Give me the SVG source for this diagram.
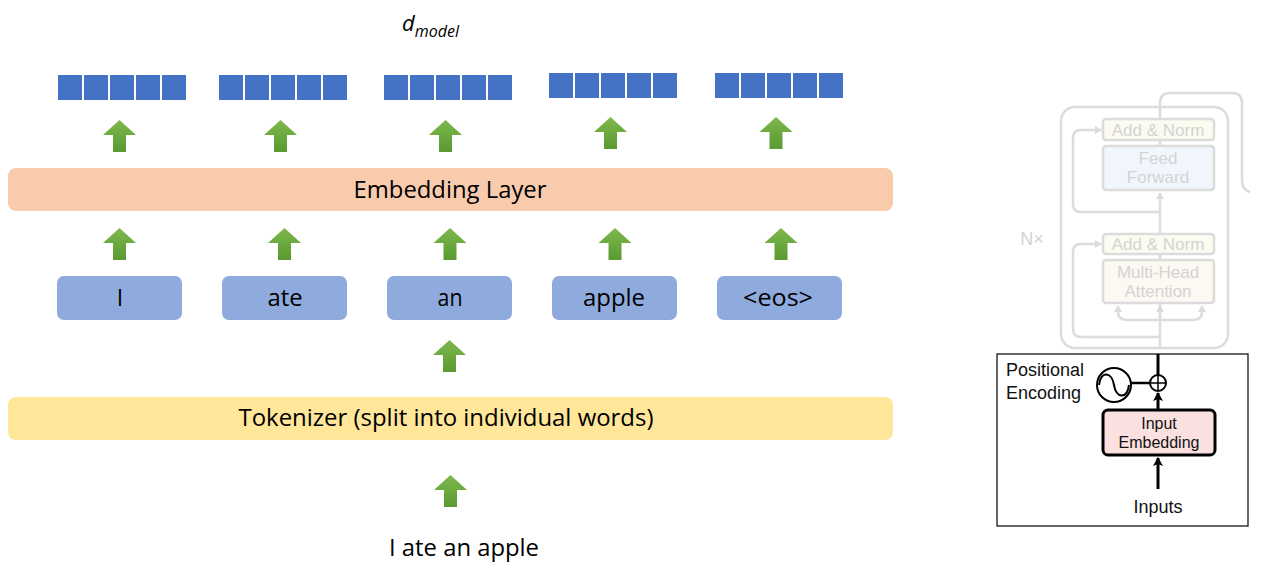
<svg xmlns="http://www.w3.org/2000/svg" width="1267" height="569" viewBox="0 0 1267 569">
<style>
.cell{fill:#4472C4}
.tok{fill:#8FAADC}
.lbl{font-family:"Open Sans","Liberation Sans",sans-serif;font-size:23px;fill:#000;text-anchor:middle}
.g{fill:none;stroke:#dcdcdc;stroke-width:2.5}
.gt{font-family:"Liberation Sans",Arial,sans-serif;font-size:17px;fill:#d4d4d4;text-anchor:middle}
.bt{font-family:"Liberation Sans",Arial,sans-serif;fill:#111}
.k{fill:none;stroke:#000;stroke-width:3}
</style>
<defs>
<linearGradient id="gr" x1="0" y1="0" x2="0" y2="1">
<stop offset="0" stop-color="#7DB84E"/>
<stop offset="1" stop-color="#5A9A2F"/>
</linearGradient>
<path id="arr" d="M0,0 L16.5,15 L6.5,15 L6.5,32 L-6.5,32 L-6.5,15 L-16.5,15 Z" fill="url(#gr)"/>
<g id="vec">
<rect class="cell" x="0" y="0" width="24" height="25"/>
<rect class="cell" x="26" y="0" width="24" height="25"/>
<rect class="cell" x="52" y="0" width="24" height="25"/>
<rect class="cell" x="78" y="0" width="24" height="25"/>
<rect class="cell" x="104" y="0" width="24" height="25"/>
</g>
<marker id="ga" markerWidth="8" markerHeight="8" refX="6" refY="4" orient="auto" markerUnits="userSpaceOnUse"><path d="M0,0 L7,4 L0,8 Z" fill="#dcdcdc"/></marker>
<marker id="ka" markerWidth="10" markerHeight="10" refX="8" refY="5" orient="auto" markerUnits="userSpaceOnUse"><path d="M0,0 L9,5 L0,10 L2,5 Z" fill="#000"/></marker>
</defs>
<rect width="1267" height="569" fill="#fff"/>

<g id="dmodel">
<text x="402" y="31" font-family="'Open Sans','Liberation Sans',sans-serif" font-style="italic" font-size="22">d<tspan font-size="16" dy="6">model</tspan></text>
</g>

<g id="vectors">
<use href="#vec" x="58" y="75"/>
<use href="#vec" x="219" y="75"/>
<use href="#vec" x="384" y="75"/>
<use href="#vec" x="549" y="73"/>
<use href="#vec" x="715" y="73"/>
</g>

<g id="connectors">
<use href="#arr" x="119.5" y="120"/>
<use href="#arr" x="280.5" y="120"/>
<use href="#arr" x="445.5" y="120"/>
<use href="#arr" x="610.5" y="117"/>
<use href="#arr" x="776" y="117"/>
<use href="#arr" x="119.5" y="228"/>
<use href="#arr" x="284.5" y="228"/>
<use href="#arr" x="450" y="228"/>
<use href="#arr" x="615" y="228"/>
<use href="#arr" x="781" y="228"/>
<use href="#arr" x="449.5" y="340"/>
<use href="#arr" x="450.5" y="475"/>
</g>

<g id="embedding-layer">
<rect x="8" y="168" width="885" height="43" rx="8" fill="#F8CBAD"/>
<text class="lbl" x="450" y="198" textLength="193" lengthAdjust="spacingAndGlyphs">Embedding Layer</text>
</g>

<g id="tok-I"><rect class="tok" x="57" y="276" width="125" height="44" rx="7"/><text class="lbl" x="120" y="306">I</text></g>
<g id="tok-ate"><rect class="tok" x="222" y="276" width="125" height="44" rx="7"/><text class="lbl" x="285" y="306" textLength="35" lengthAdjust="spacingAndGlyphs">ate</text></g>
<g id="tok-an"><rect class="tok" x="387" y="276" width="125" height="44" rx="7"/><text class="lbl" x="450" y="306" textLength="25" lengthAdjust="spacingAndGlyphs">an</text></g>
<g id="tok-apple"><rect class="tok" x="552" y="276" width="125" height="44" rx="7"/><text class="lbl" x="614" y="306" textLength="62" lengthAdjust="spacingAndGlyphs">apple</text></g>
<g id="tok-eos"><rect class="tok" x="717" y="276" width="125" height="44" rx="7"/><text class="lbl" x="778" y="306" textLength="70" lengthAdjust="spacingAndGlyphs">&lt;eos&gt;</text></g>

<g id="tokenizer">
<rect x="8" y="397" width="885" height="43" rx="8" fill="#FFE699"/>
<text class="lbl" x="446" y="426" textLength="415" lengthAdjust="spacingAndGlyphs">Tokenizer (split into individual words)</text>
</g>

<g id="input-text">
<text class="lbl" x="464" y="556" textLength="150" lengthAdjust="spacingAndGlyphs">I ate an apple</text>
</g>

<g id="transformer-faded">
<path class="g" d="M1160,119 L1160,103 Q1160,93 1170,93 L1232,93 Q1242,93 1242,103 L1242,180 Q1242,190 1250,192"/>
<rect class="g" x="1061" y="107" width="167" height="241" rx="14"/>
<rect x="1103" y="119" width="111" height="21" rx="3" fill="#fbfbf0" stroke="#dcdcdc" stroke-width="2.5"/>
<text class="gt" x="1158" y="136">Add &amp; Norm</text>
<rect x="1103" y="146" width="111" height="44" rx="3" fill="#f0f6fc" stroke="#dcdcdc" stroke-width="2.5"/>
<text class="gt" x="1158" y="164">Feed</text>
<text class="gt" x="1158" y="183">Forward</text>
<line class="g" x1="1160" y1="140" x2="1160" y2="146"/>
<path class="g" d="M1160,348 L1160,193" marker-end="url(#ga)"/>
<path class="g" d="M1160,212 L1081,212 Q1073,212 1073,204 L1073,138 Q1073,130 1081,130 L1101,130" marker-end="url(#ga)"/>
<rect x="1103" y="234" width="111" height="20" rx="3" fill="#fbfbf0" stroke="#dcdcdc" stroke-width="2.5"/>
<text class="gt" x="1158" y="250">Add &amp; Norm</text>
<rect x="1103" y="260" width="111" height="43" rx="3" fill="#fcf8f2" stroke="#dcdcdc" stroke-width="2.5"/>
<text class="gt" x="1158" y="278">Multi-Head</text>
<text class="gt" x="1158" y="297">Attention</text>
<line class="g" x1="1160" y1="254" x2="1160" y2="260"/>
<path class="g" d="M1160,337 L1081,337 Q1073,337 1073,329 L1073,252 Q1073,244 1081,244 L1101,244" marker-end="url(#ga)"/>
<path class="g" d="M1160,320 L1128,320 Q1118,320 1118,312 L1118,306" marker-end="url(#ga)"/>
<path class="g" d="M1160,320 L1193,320 Q1202,320 1202,312 L1202,306" marker-end="url(#ga)"/>
<path class="g" d="M1160,320 L1160,306" marker-end="url(#ga)"/>
<text x="1032" y="245" font-family="'Liberation Sans',Arial,sans-serif" font-size="18" fill="#d4d4d4" text-anchor="middle">N×</text>
</g>

<g id="encoder-input">
<rect x="997" y="354" width="251" height="172" fill="none" stroke="#000" stroke-width="1.2"/>
<text class="bt" x="1006" y="376" font-size="18">Positional</text>
<text class="bt" x="1006" y="399" font-size="18">Encoding</text>
<circle cx="1114" cy="385" r="17" fill="none" stroke="#000" stroke-width="2"/>
<path d="M1099,385 C1101,370 1112,372 1114,385 C1116,398 1127,400 1129,385" fill="none" stroke="#000" stroke-width="2"/>
<line x1="1131" y1="383" x2="1150" y2="383" stroke="#000" stroke-width="2.5"/>
<circle cx="1158" cy="383" r="8" fill="#fff" stroke="#000" stroke-width="2"/>
<line x1="1150" y1="383" x2="1166" y2="383" stroke="#000" stroke-width="1.5"/>
<line x1="1158" y1="375" x2="1158" y2="391" stroke="#000" stroke-width="1.5"/>
<line class="k" x1="1158" y1="354" x2="1158" y2="375"/>
<path class="k" d="M1158,410 L1158,393" marker-end="url(#ka)"/>
<rect x="1103" y="410" width="112" height="45" rx="5" fill="#fbe0e0" stroke="#000" stroke-width="3"/>
<text class="bt" x="1159" y="429" font-size="16" text-anchor="middle">Input</text>
<text class="bt" x="1159" y="448" font-size="16" text-anchor="middle">Embedding</text>
<path class="k" d="M1158,489 L1158,458" marker-end="url(#ka)"/>
<text class="bt" x="1158" y="513" font-size="18" text-anchor="middle">Inputs</text>
</g>
</svg>
